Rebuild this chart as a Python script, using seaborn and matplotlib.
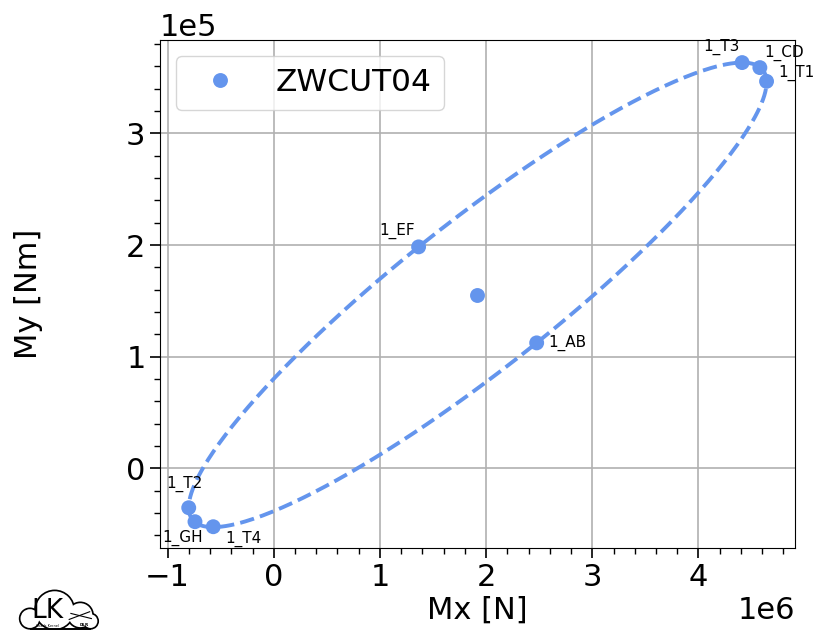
import numpy as np
import pandas as pd
import matplotlib
matplotlib.use("Agg")
import matplotlib.pyplot as plt
import seaborn as sns
from matplotlib.patches import Circle
from matplotlib.ticker import AutoMinorLocator

# ---- data ----
labels = ["1_T3", "1_CD", "1_T1", "1_EF", "1_AB", "1_T2", "1_GH", "1_T4"]
mx = [4.411e6, 4.578e6, 4.641e6, 1.364e6, 2.476e6, -0.801e6, -0.742e6, -0.570e6]
my = [3.635e5, 3.590e5, 3.467e5, 1.984e5, 1.124e5, -0.353e5, -0.478e5, -0.523e5]
center_mx = [1.916e6]
center_my = [1.551e5]
station = "ZWCUT04"

# label placement (offset pixels, alignment)
label_style = {
    "1_T3": (-2, 8, "right", "bottom"),
    "1_CD": (4, 7, "left", "bottom"),
    "1_T1": (12, 0, "left", "bottom"),
    "1_EF": (-4, 8, "right", "bottom"),
    "1_AB": (12, 0, "left", "center"),
    "1_T2": (-4, 16, "center", "bottom"),
    "1_GH": (8, -8, "right", "top"),
    "1_T4": (12, -4, "left", "top"),
}

color = "#6495ED"

plt.rcParams["font.family"] = ["DejaVu Sans"]
plt.rcParams["font.size"] = 22
plt.rcParams["axes.grid"] = True
plt.rcParams["axes.axisbelow"] = True


def mvee(P, tol=1e-9, maxit=20000):
    N, d = P.shape
    Q = np.vstack([P.T, np.ones(N)])
    u = np.ones(N) / N
    for _ in range(maxit):
        X = Q @ np.diag(u) @ Q.T
        M = np.einsum("ij,ji->i", Q.T @ np.linalg.inv(X), Q)
        j = np.argmax(M)
        step = (M[j] - d - 1.0) / ((d + 1.0) * (M[j] - 1.0))
        new_u = (1 - step) * u
        new_u[j] += step
        err = np.linalg.norm(new_u - u)
        u = new_u
        if err < tol:
            break
    c = P.T @ u
    A = np.linalg.inv(P.T @ np.diag(u) @ P - np.outer(c, c)) / d
    return A, c


fig = plt.figure(figsize=(8.13, 6.39), dpi=100)
ax = fig.add_axes([0.197, 0.142, 0.781, 0.795])

df = pd.DataFrame({"Mx": mx, "My": my, "station": station})
dfc = pd.DataFrame({"Mx": center_mx, "My": center_my, "station": station})

# ellipse enclosing the load points (scaled units for conditioning)
P = np.column_stack([np.array(mx) / 1e6, np.array(my) / 1e5])
A, c = mvee(P)
w, V = np.linalg.eigh(A)
t = np.linspace(0, 2 * np.pi, 400)
circ = np.vstack([np.cos(t), np.sin(t)])
E = (V @ np.diag(1 / np.sqrt(w)) @ circ).T + c
ax.plot(E[:, 0] * 1e6, E[:, 1] * 1e5, ls="--", lw=2.8, color=color, zorder=2)

sns.scatterplot(data=df, x="Mx", y="My", hue="station", palette=[color],
                s=115, linewidth=0, ax=ax, zorder=3)
sns.scatterplot(data=dfc, x="Mx", y="My", color=color, s=115, linewidth=0,
                ax=ax, zorder=3, legend=False)

for lab, x, y in zip(labels, mx, my):
    dx, dy, ha, va = label_style[lab]
    ax.annotate(lab, (x, y), xytext=(dx, dy), textcoords="offset pixels",
                ha=ha, va=va, fontsize=11, zorder=4)

ax.set_xlim(-1.07e6, 4.91e6)
ax.set_ylim(-0.716e5, 3.835e5)
ax.xaxis.set_minor_locator(AutoMinorLocator(5))
ax.yaxis.set_minor_locator(AutoMinorLocator(5))
ax.tick_params(which="major", length=7, width=1.2)
ax.tick_params(which="minor", length=4, width=1.0)
ax.grid(True, which="major", color="#b0b0b0", lw=1.2)
ax.grid(False, which="minor")
ax.set_xlabel("Mx [N]", labelpad=3)
ax.set_ylabel("My [Nm]", labelpad=60)
ax.ticklabel_format(style="sci", scilimits=(0, 0))

leg = ax.legend(loc="upper left", fontsize=22.5, markerscale=1.0,
                handletextpad=0.8, borderpad=0.4, handlelength=2.0)
for h in leg.legend_handles:
    h.set_color(color)
    try:
        h.set_sizes([115])
    except Exception:
        pass

# small logo (Loads Kernel cloud)
lax = fig.add_axes([0.02, 0.006, 0.105, 0.076])
lax.set_xlim(0, 10)
lax.set_ylim(0, 5.6)
lax.set_aspect("equal")
lax.axis("off")
circles = [(1.6, 1.9, 1.3), (4.5, 2.9, 2.4), (7.5, 2.3, 1.6), (8.7, 1.6, 1.0)]
for (cx, cy, r) in circles:
    lax.add_patch(Circle((cx, cy), r, fc="black", ec="none", clip_on=False, zorder=1))
for (cx, cy, r) in circles:
    lax.add_patch(Circle((cx, cy), r - 0.2, fc="white", ec="none", clip_on=False, zorder=2))
lax.add_patch(plt.Rectangle((1.6, -1.0), 7.1, 1.6, fc="white", ec="none",
                            clip_on=False, zorder=3))
lax.plot([1.6, 8.7], [0.7, 0.7], color="black", lw=1.4, zorder=4,
         solid_capstyle="butt", clip_on=False)
lax.text(3.7, 2.75, "LK", fontsize=19, ha="center", va="center", zorder=5)
lax.text(3.7, 1.05, "Loads Kernel", fontsize=2.5, ha="center", va="center", zorder=5)
lax.text(7.9, 1.1, "DLR", fontsize=3, ha="center", va="center", weight="bold", zorder=5)
lax.plot([6.2, 8.6], [1.8, 2.7], color="black", lw=0.8, zorder=5)
lax.plot([6.4, 8.8], [2.5, 1.9], color="black", lw=0.8, zorder=5)

fig.savefig("out.png", dpi=100)
